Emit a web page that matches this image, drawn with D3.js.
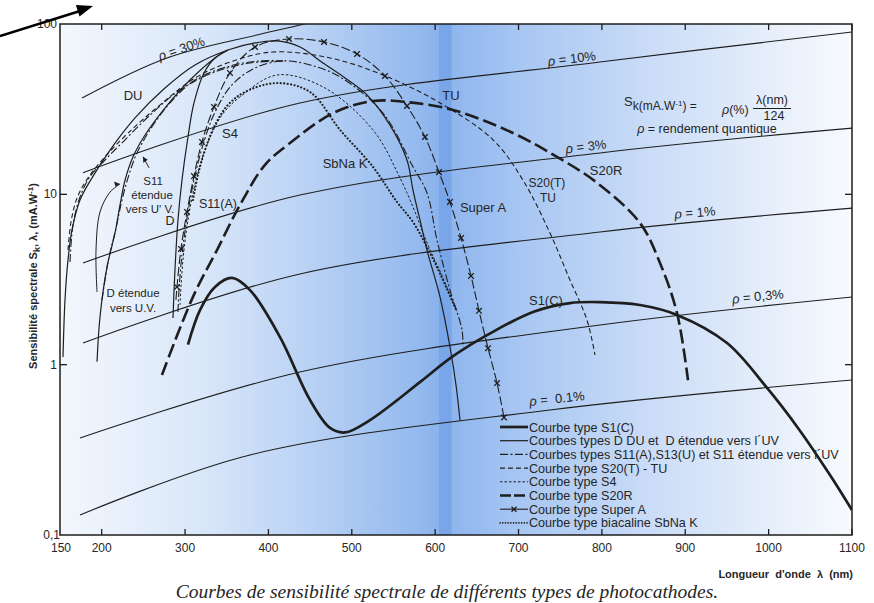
<!DOCTYPE html>
<html><head><meta charset="utf-8">
<script src="https://cdn.jsdelivr.net/npm/d3@7"></script>
<style>
body{margin:0;background:#fff;}
svg{display:block;}
text{font-family:"Liberation Sans",Arial,sans-serif;fill:#262626;}
</style>
</head><body>
<svg id="c" width="874" height="603"></svg>
<script>
// ---------- DATA (wavelength nm, sensitivity mA/W) ----------
const xTicks = [150,200,300,400,500,600,700,800,900,1000,1100];
const yTicks = [0.1,1,10,100];
const yTickLabels = ["0,1","1","10","100"];

// iso quantum-efficiency lines
const rho30L = [176.4,278.3,386.3,437.9,461.9], rho30S = [36.8,63.2,86.2,98.6,105.6];
const rho10L = [177.6,437.9,797.7,1101], rho10S = [13.4,34.4,59.8,89.8];
const rho3L  = [177.6,437.9,797.7,1101], rho3S  = [3.95,9.9,17.5,24.5];
const rho1L  = [177.6,437.9,797.7,1101], rho1S  = [1.34,3.41,6.01,8.31];
const rho03L = [174,437.9,797.7,1101],   rho03S = [0.371,0.906,1.71,2.50];
const rho01L = [174,377.9,737.7,1101],   rho01S = [0.131,0.295,0.542,0.813];

// photocathode curves
const s1cL = [303.5,317.9,335.9,356.3,377.9,413.9,449.9,473.9,491.9,521.8,581.8,620.2,662.2,717.4,761.7,797.7,845.7,890.1,950.1,998.1,1035.2,1073.6,1100];
const s1cS = [1.31,2.09,2.86,3.23,2.74,1.45,0.62,0.425,0.40,0.473,0.79,1.11,1.49,2.04,2.30,2.33,2.24,1.96,1.34,0.73,0.425,0.225,0.14];

const duL = [153.6,156.0,159.6,164.4,174.0,188.4,210.0,240.0,275.9,311.9,351.5,383.9,410.3,437.9,465.5,491.9,518.3,545.8,566.2,573.4,581.8,590.2,605.8,617.8,625.0,629.8];
const duS = [1.11,2.40,4.12,6.18,9.26,12.5,18.2,28.1,42.1,57.5,70.4,77.4,79.5,73.3,59.0,48.2,38.3,25.5,15.9,10.6,7.07,4.71,2.50,1.27,0.76,0.47];
const dEtL = [194.4,198.0,206.4,216.0,222.0,228.0,237.6,252.0,275.9,305.9,335.9,351.5];
const dEtS = [1.04,1.91,3.75,5.93,8.66,12.1,16.6,22.3,32.1,46.9,63.2,70.4];
const dL = [285.5,287.9,291.5,296.3,303.5,310.7,322.7,335.9,351.5];
const dS = [1.88,3.60,7.07,12.1,21.7,34.4,51.6,63.2,70.4];

const s13L = [162.0,165.6,174.0,186.0,204.0,228.0,258.0,293.9,335.9,377.9,417.5];
const s13S = [4.01,6.61,9.65,12.7,15.9,20.9,29.2,41.0,52.3,59.0,60.7];
const s11eL = [200.4,207.6,217.2,224.4,231.6,241.2,258.0,281.9,311.9,353.9,389.9,417.5];
const s11eS = [2.40,4.01,6.35,9.26,12.5,17.0,23.9,34.4,46.9,56.7,60.7,60.7];
const s11aL = [291.5,292.7,296.3,302.3,310.7,321.5,335.9,356.3,383.9,417.5,449.9,485.9,537.4,573.4,590.2,602.2,617.8,632.2,633.4];
const s11aS = [2.04,2.74,4.41,7.26,12.1,19.5,30.4,43.9,55.2,60.7,57.5,48.9,30.0,14.5,10.2,5.39,2.74,1.60,1.27];

const s20tL = [159.6,163.2,170.4,183.6,204.0,231.6,270.0,311.9,353.9,405.5,473.9,537.4,605.8,669.4,705.4,737.7,761.7,782.1,791.7];
const s20tS = [4.71,6.88,9.52,12.5,16.6,22.9,33.5,48.2,59.8,68.5,63.2,50.2,34.4,20.9,12.1,5.93,3.14,1.83,1.14];

const s4L = [293.9,297.5,303.5,313.1,326.3,344.3,365.9,410.3,465.5,525.4,557.8,575.8,591.4,609.4,626.2];
const s4S = [2.24,4.12,7.07,12.1,19.5,29.2,37.3,50.2,42.7,23.9,12.5,7.88,5.04,3.23,2.04];

const s20rL = [272.3,309.5,338.3,365.9,395.9,425.9,477.5,525.4,566.2,621.4,693.4,746.1,794.1,845.7,869.7,890.1,903.3];
const s20rS = [0.87,2.50,4.71,8.66,14.9,20.0,30.0,35.3,34.8,31.3,22.9,16.6,11.7,6.79,3.95,2.01,0.81];

const superAL = [289.1,290.3,295.1,302.3,310.7,320.3,334.7,353.9,383.9,424.7,466.7,506.3,539.8,566.2,587.8,604.6,617.8,631.0,643.0,652.6,663.4,674.2,682.6];
const superAS = [2.40,2.86,4.78,7.88,12.8,20.3,32.6,51.6,73.3,81.7,78.4,66.7,49.5,33.0,21.7,13.5,9.02,5.54,3.32,2.07,1.25,0.78,0.49];

const sbnaL = [309.5,315.5,323.9,335.9,351.5,371.9,410.3,449.9,485.9,525.4,554.2,573.4,593.8,609.4,626.2];
const sbnaS = [9.26,13.0,18.2,25.5,33.5,39.9,45.0,39.9,23.9,14.5,9.02,6.88,4.53,3.14,2.04];

const legendLabels = ["Courbe type S1(C)","Courbes types D DU et  D étendue vers l´UV","Courbes types S11(A),S13(U) et S11 étendue vers l´UV","Courbe type S20(T) - TU","Courbe type S4","Courbe type S20R","Courbe type Super A","Courbe type biacaline SbNa K"];

// ---------- SETUP ----------
const svg = d3.select("#c");
const x = d3.scaleLinear().domain([150,1100]).range([60,852]);
const y = d3.scaleLog().domain([0.1,100]).range([535,24]);
const zip = (a,b)=>a.map((v,i)=>[v,b[i]]);
const line = d3.line().x(d=>x(d[0])).y(d=>y(d[1])).curve(d3.curveCatmullRom.alpha(0.5));
const ink = "#1e1e1e";

const defs = svg.append("defs");
const grad = defs.append("linearGradient").attr("id","bg").attr("x1","0").attr("x2","1").attr("y1","0").attr("y2","0");
[[0,"#f3f7fd"],[0.18,"#d9e7f9"],[0.30,"#bdd4f5"],[0.455,"#93b9ee"],[0.478,"#8ab2ec"],[0.479,"#78a6e9"],[0.494,"#78a6e9"],[0.495,"#8fb6ee"],[0.58,"#a7c6f2"],[0.745,"#cadcf7"],[0.91,"#e8f0fb"],[1,"#f8fafe"]]
  .forEach(s=>grad.append("stop").attr("offset",s[0]).attr("stop-color",s[1]));
defs.append("clipPath").attr("id","clip").append("rect").attr("x",60).attr("y",24).attr("width",792).attr("height",511);

svg.append("rect").attr("x",60).attr("y",24).attr("width",792).attr("height",511).attr("fill","url(#bg)");

const g = svg.append("g").attr("clip-path","url(#clip)");

// rho lines
[[rho30L,rho30S],[rho10L,rho10S],[rho3L,rho3S],[rho1L,rho1S],[rho03L,rho03S],[rho01L,rho01S]].forEach(r=>{
  g.append("path").attr("d",line(zip(r[0],r[1]))).attr("fill","none").attr("stroke",ink).attr("stroke-width",1.1);
});

const styles = {
  s1c:{w:2.7,dash:null},
  solid:{w:1.2,dash:null},
  s11:{w:1.1,dash:"8,2.5,2,2.5"},
  s20t:{w:1.1,dash:"5,3"},
  s4:{w:1,dash:"2.5,2"},
  s20r:{w:2.6,dash:"14,5"},
  superA:{w:1.1,dash:"9,3"},
  sbna:{w:2.1,dash:"0.1,3.4"}
};
function draw(L,S,st){
  const p = g.append("path").attr("d",line(zip(L,S))).attr("fill","none").attr("stroke",ink)
    .attr("stroke-width",st.w);
  if(st.dash) p.attr("stroke-dasharray",st.dash);
  if(st===styles.sbna) p.attr("stroke-linecap","round");
  return p;
}
draw(s1cL,s1cS,styles.s1c);
draw(duL,duS,styles.solid);
draw(dEtL,dEtS,styles.solid);
draw(dL,dS,styles.solid);
draw(s13L,s13S,styles.s11);
draw(s11eL,s11eS,styles.s11);
draw(s11aL,s11aS,styles.s11);
draw(s20tL,s20tS,styles.s20t);
draw(s4L,s4S,styles.s4);
draw(s20rL,s20rS,styles.s20r);
draw(superAL,superAS,styles.superA);
draw(sbnaL,sbnaS,styles.sbna);
// Super A cross markers
g.selectAll(".xm").data(zip(superAL,superAS).slice(1)).enter().append("path")
  .attr("transform",d=>`translate(${x(d[0])},${y(d[1])})`)
  .attr("d","M-2.8,-2.8L2.8,2.8M-2.8,2.8L2.8,-2.8").attr("stroke",ink).attr("stroke-width",1.3);

// leader arrows for annotations
const leadD = [[194.4,2.67],[193.2,4.71],[198.0,7.88],[210.0,10.3],[222.0,11.5]];
g.append("path").attr("d",line(leadD)).attr("fill","none").attr("stroke",ink).attr("stroke-width",1);
g.append("path").attr("d",`M${x(222)},${y(11.5)} l-6,-2.5 l1.5,5 z`).attr("fill",ink);
const leadS = [[256.8,14.3],[249.6,16.6]];
g.append("path").attr("d",d3.line().x(d=>x(d[0])).y(d=>y(d[1]))(leadS)).attr("stroke",ink).attr("stroke-width",1);
g.append("path").attr("d",`M${x(249.6)},${y(16.6)} l0.2,6 l4.5,-3.2 z`).attr("fill",ink);

// frame
svg.append("rect").attr("x",60).attr("y",24).attr("width",792).attr("height",511).attr("fill","none").attr("stroke",ink).attr("stroke-width",1.5);
// ticks (inward)
const tk = svg.append("g").attr("stroke",ink).attr("stroke-width",1.3);
xTicks.slice(1).forEach(v=>{
  tk.append("line").attr("x1",x(v)).attr("x2",x(v)).attr("y1",535).attr("y2",529);
  tk.append("line").attr("x1",x(v)).attr("x2",x(v)).attr("y1",24).attr("y2",30);
});
yTicks.slice(1,3).forEach(v=>{
  tk.append("line").attr("x1",60).attr("x2",67).attr("y1",y(v)).attr("y2",y(v));
  tk.append("line").attr("x1",852).attr("x2",845).attr("y1",y(v)).attr("y2",y(v));
});
// tick labels
svg.selectAll(".xl").data(xTicks).enter().append("text")
  .attr("x",d=>x(d)+(d===150?1:0)).attr("y",552).attr("text-anchor","middle").attr("font-size",12).text(d=>d);
svg.selectAll(".yl").data(yTicks).enter().append("text")
  .attr("x",(d,i)=>i===0?60:57).attr("y",d=>y(d)+4).attr("text-anchor","end").attr("font-size",12)
  .text((d,i)=>yTickLabels[i]);

// axis titles
const yt = svg.append("text").attr("transform","translate(37,276) rotate(-90)").attr("text-anchor","middle")
  .attr("font-size",11).attr("font-weight","bold");
yt.append("tspan").text("Sensibilité  spectrale  S");
yt.append("tspan").attr("dy",3).attr("font-size",9).text("k");
yt.append("tspan").attr("dy",-3).text(", λ, (mA.W");
yt.append("tspan").attr("dy",-4).attr("font-size",8).text("-1");
yt.append("tspan").attr("dy",4).text(")");
svg.append("text").attr("x",853).attr("y",578).attr("text-anchor","end").attr("font-size",11)
  .attr("font-weight","bold").attr("xml:space","preserve").text("Longueur  d'onde  λ  (nm)");
svg.append("text").attr("x",447).attr("y",598).attr("text-anchor","middle")
  .style("font-family","'Liberation Serif','Times New Roman',serif").style("font-style","italic")
  .attr("font-size",19.5).text("Courbes de sensibilité spectrale de différents types de photocathodes.");

// curve labels [text, lambda, S, font size]
const labels = [
  ["DU",237.6,35.8,13],["S4",353.9,21.4,13],["S11",261.6,11.4,11.5],["étendue",260.4,9.45,11.5],["vers U' V.",258.0,7.8,11.5],
  ["D",282,6.61,12.5],["S11(A)",339.5,8.32,12.5],["D étendue",237.6,2.50,11.5],["vers U.V.",237.6,2.03,11.5],
  ["SbNa K",491.9,14.28,13],["TU",619.0,35.8,13],["Super A",657.4,7.875,13],["S20(T)",734.1,11.0,12],["TU",735.3,9.0,12],
  ["S20R",805.0,13.0,13],["S1(C)",732.9,2.24,13]
];
svg.selectAll(".cl").data(labels).enter().append("text")
  .attr("x",d=>x(d[1])).attr("y",d=>y(d[2])).attr("text-anchor","middle").attr("font-size",d=>d[3]).text(d=>d[0]);

const rhoLabels = [["30%",296.3,70.4,-19],["10%",764.1,61.5,-7],["3%",781.0,18.71,-7],["1%",911.7,7.66,-5],["0,3%",987.2,2.463,-6],[" 0.1%",746.1,0.62,-6]];
rhoLabels.forEach(d=>{
  const t = svg.append("text").attr("transform",`translate(${x(d[1])},${y(d[2])}) rotate(${d[3]})`)
    .attr("text-anchor","middle").attr("dominant-baseline","middle").attr("font-size",13).attr("xml:space","preserve");
  t.append("tspan").style("font-style","italic").text("ρ");
  t.append("tspan").text(" = "+d[0]);
});

// formula
const f = svg.append("text").attr("x",624).attr("y",106).attr("font-size",13);
f.append("tspan").text("S");
f.append("tspan").attr("dy",4).attr("font-size",12).text("k(mA.W");
f.append("tspan").attr("dy",-4).attr("font-size",8).text("-1");
f.append("tspan").attr("dy",4).attr("font-size",12).attr("xml:space","preserve").text(") =");
const f2 = svg.append("text").attr("x",722).attr("y",114).attr("font-size",12.5);
f2.append("tspan").style("font-style","italic").text("ρ");
f2.append("tspan").text("(%)");
svg.append("text").attr("x",772).attr("y",104).attr("text-anchor","middle").attr("font-size",12.5).text("λ(nm)");
svg.append("line").attr("x1",753).attr("x2",791).attr("y1",108.5).attr("y2",108.5).attr("stroke",ink).attr("stroke-width",1);
svg.append("text").attr("x",774).attr("y",120).attr("text-anchor","middle").attr("font-size",12.5).text("124");
const f3 = svg.append("text").attr("x",707).attr("y",133).attr("text-anchor","middle").attr("font-size",12.5);
f3.append("tspan").style("font-style","italic").text("ρ");
f3.append("tspan").text(" = rendement quantique");

// legend
const lg = svg.append("g");
const legStyles = [styles.s1c,styles.solid,styles.s11,styles.s20t,styles.s4,styles.s20r,styles.superA,styles.sbna];
legendLabels.forEach((t,i)=>{
  const yy = 427 + i*13.7;
  const ln = lg.append("line").attr("x1",500).attr("x2",528).attr("y1",yy).attr("y2",yy).attr("stroke",ink)
    .attr("stroke-width",legStyles[i].w);
  if(legStyles[i].dash) ln.attr("stroke-dasharray", i===7 ? "0.1,2.6" : (i===6?null:(i===5?"11,3":legStyles[i].dash)));
  if(i===7) ln.attr("stroke-linecap","round").attr("stroke-width",1.6);
  if(i===6) lg.append("path").attr("d",`M${514-2.5},${yy-2.5}l5,5m-5,0l5,-5`).attr("stroke",ink).attr("stroke-width",1.3);
  lg.append("text").attr("x",529).attr("y",yy+4.5).attr("font-size",12.6).attr("xml:space","preserve").text(t);
});

// arrow at top-left
svg.append("line").attr("x1",0).attr("y1",36).attr("x2",80).attr("y2",11).attr("stroke","#000").attr("stroke-width",2.6);
svg.append("path").attr("d","M93,6 L75.9,5.1 L79.5,16.5 Z").attr("fill","#000");
</script>
</body></html>
